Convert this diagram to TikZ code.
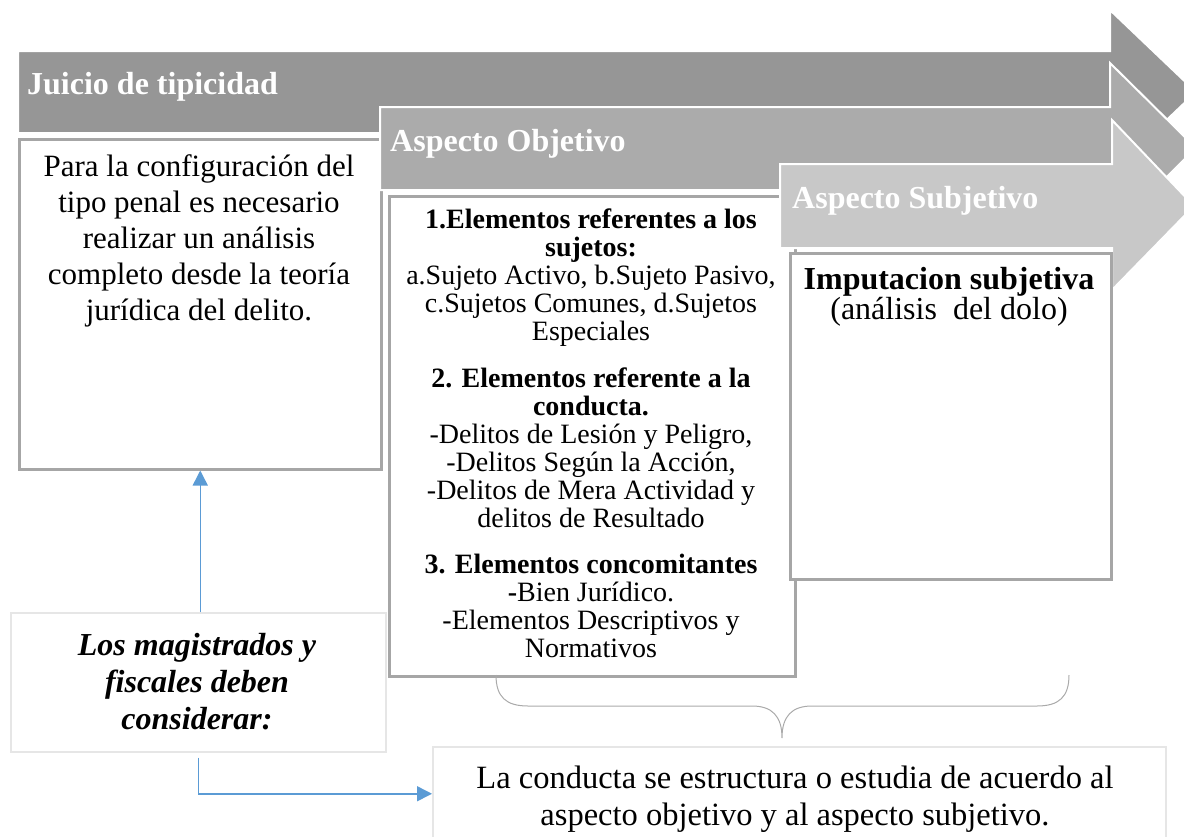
\documentclass[tikz,border=0pt]{standalone}
\usepackage{fontspec}
\setmainfont{Liberation Serif}
\usetikzlibrary{arrows.meta}
\definecolor{arrA}{RGB}{150,150,150}
\definecolor{arrB}{RGB}{171,171,171}
\definecolor{arrC}{RGB}{200,200,200}
\definecolor{boxline}{RGB}{166,166,166}
\definecolor{lightline}{RGB}{230,230,230}
\definecolor{bluel}{RGB}{91,155,213}
\definecolor{bracec}{RGB}{170,170,170}
\tikzset{
  bigarrow/.style={draw=white, line width=2pt, line join=miter},
  graybox/.style={draw=boxline, line width=2.5pt, fill=white, inner sep=0pt, anchor=north west},
  lightbox/.style={draw=lightline, line width=1.5pt, fill=white, inner sep=0pt, anchor=north west},
  headtext/.style={text=white, font=\fontsize{32}{36}\selectfont\bfseries, inner sep=0pt, anchor=base west},
  bodytext/.style={align=center, inner sep=0pt, anchor=north},
  blueconn/.style={draw=bluel, line width=1.5pt, -{Triangle[length=15pt,width=15pt]}},
  bracepath/.style={draw=bracec, line width=1pt}
}
\begin{document}
\begin{tikzpicture}[x=1pt,y=-1pt]
\useasboundingbox (0,0) rectangle (1184,836);
\clip (0,0) rectangle (1184,836);
% arrow 1
\path[bigarrow, fill=arrA] (18,51) -- (1110,51) -- (1110,10) -- (1196,92) -- (1110,174) -- (1110,133) -- (18,133) -- cycle;
\node[headtext] (h1) at (27,94) {Juicio de tipicidad};
% box 1
\node[graybox, minimum width=362pt, minimum height=330pt] (b1) at (18,138) {};
\node[bodytext, font=\fontsize{31}{36}\selectfont] (t1) at (199,154) {Para la configuración del\\tipo penal es necesario\\realizar un análisis\\completo desde la teoría\\jurídica del delito.};
% arrow 2
\path[bigarrow, fill=arrB] (380,107) -- (1110,107) -- (1110,63) -- (1196,148) -- (1110,233) -- (1110,190) -- (380,190) -- cycle;
\node[headtext] (h2) at (390,151) {Aspecto Objetivo};
% box 2
\node[graybox, minimum width=406pt, minimum height=480pt] (b2) at (388,195) {};
\node[bodytext, font=\fontsize{28}{28}\selectfont] (t2) at (591,209) {\textbf{1.Elementos referentes a los}\\\textbf{sujetos:}\\a.Sujeto Activo, b.Sujeto Pasivo,\\c.Sujetos Comunes, d.Sujetos\\Especiales\\[19pt]\textbf{2. Elementos referente a la}\\\textbf{conducta.}\\-Delitos de Lesión y Peligro,\\-Delitos Según la Acción,\\-Delitos de Mera Actividad y\\delitos de Resultado\\[18pt]\textbf{3. Elementos concomitantes}\\\textbf{-}Bien Jurídico.\\-Elementos Descriptivos y\\Normativos};
% arrow 3
\path[bigarrow, fill=arrC] (780,164) -- (1112,164) -- (1112,120) -- (1194,206) -- (1112,290) -- (1112,248) -- (780,248) -- cycle;
\node[headtext] (h3) at (792,208) {Aspecto Subjetivo};
% box 3
\node[graybox, minimum width=321pt, minimum height=326pt] (b3) at (789,252) {};
\node[bodytext, font=\fontsize{32}{29}\selectfont] (t3) at (949,267) {\textbf{Imputacion subjetiva}\\(análisis\ \ del dolo)};
% box 4
\node[lightbox, minimum width=375pt, minimum height=139pt] (b4) at (10,612) {};
\node[bodytext, font=\fontsize{32}{37}\selectfont\bfseries\itshape] (t4) at (197,633) {Los magistrados y\\fiscales deben\\considerar:};
% box 5
\node[lightbox, minimum width=733pt, minimum height=94pt] (b5) at (432,746) {};
\node[bodytext, font=\fontsize{32.5}{37}\selectfont] (t5) at (795,766) {La conducta se estructura o estudia de acuerdo al\\aspecto objetivo y al aspecto subjetivo.};
% connectors
\draw[blueconn] (b4.north -| b1.south) -- (b1.south);
\coordinate (c1) at ([yshift=-5pt]b4.south);
\draw[blueconn] (c1) |- (b5.west);
% brace
\coordinate (brL) at (496,675);
\coordinate (brM) at (782,738);
\coordinate (brR) at (1069,675);
\draw[bracepath] (brL) .. controls (496,697) and (506,706) .. (528,706) -- (752,706) .. controls (772,706) and (782,716) .. (brM) .. controls (782,716) and (792,706) .. (812,706) -- (1037,706) .. controls (1059,706) and (1069,697) .. (brR);
\end{tikzpicture}
\end{document}
